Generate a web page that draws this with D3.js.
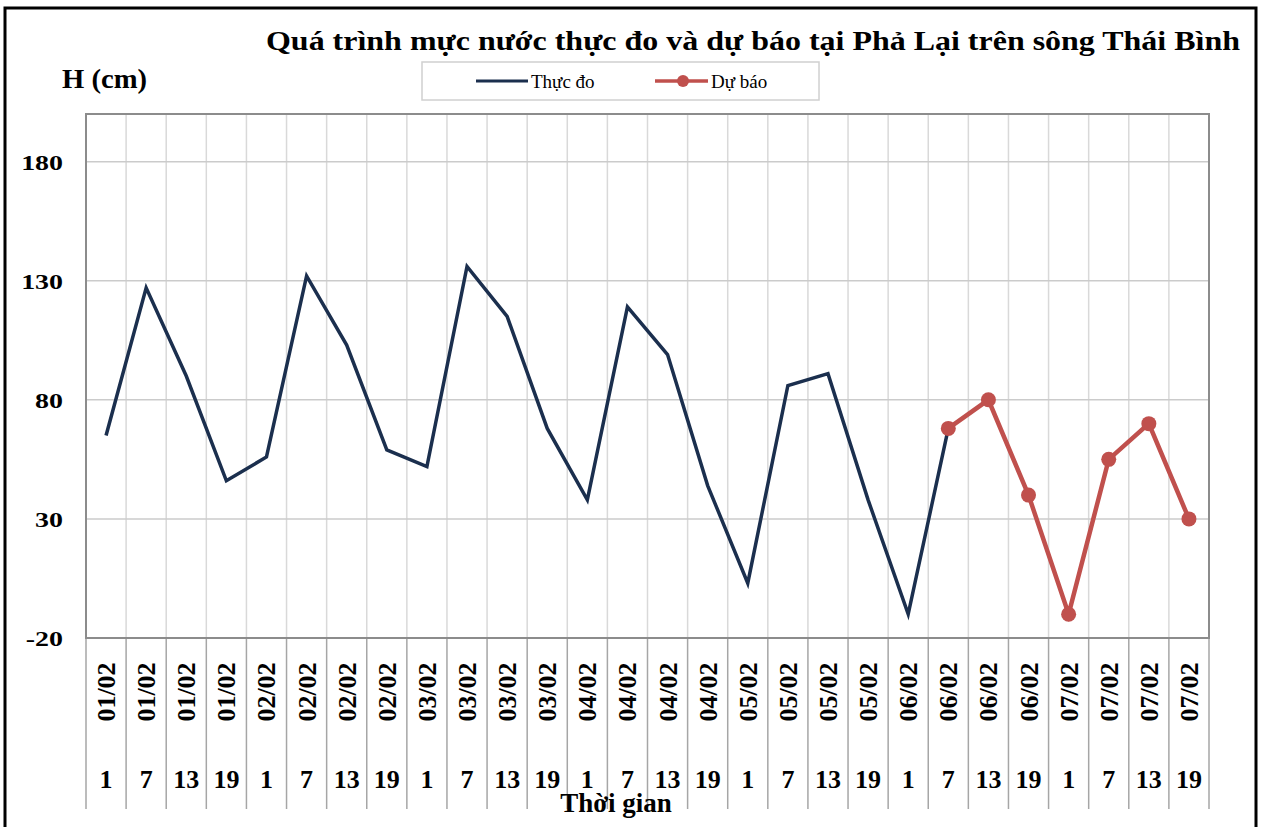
<!DOCTYPE html>
<html>
<head>
<meta charset="utf-8">
<script src="https://cdn.jsdelivr.net/npm/d3@7"></script>
<style>
  body { margin: 0; background: #fff; }
  text { font-family: "Times New Roman", "Liberation Serif", serif; }
</style>
</head>
<body>
<svg id="chart" width="1264" height="827"></svg>
<script>
var dateLabels = ["01/02","01/02","01/02","01/02","02/02","02/02","02/02","02/02",
                  "03/02","03/02","03/02","03/02","04/02","04/02","04/02","04/02",
                  "05/02","05/02","05/02","05/02","06/02","06/02","06/02","06/02",
                  "07/02","07/02","07/02","07/02"];
var hourLabels = ["1","7","13","19","1","7","13","19","1","7","13","19","1","7",
                  "13","19","1","7","13","19","1","7","13","19","1","7","13","19"];
// thuc do (observed), ends where the forecast starts
var observed = [65,127,90,46,56,132,103,59,52,136,115,68,38,119,99,44,3,86,91,38,-10,68];
// du bao (forecast)
var forecast = [null,null,null,null,null,null,null,null,null,null,null,null,null,null,
                null,null,null,null,null,null,null,68,80,40,-10,55,70,30];
var yTicks = [-20, 30, 80, 130, 180];

var navy = "#1b2f4e", red = "#c0504d";

var svg = d3.select("#chart");

var plotLeft = 86, plotRight = 1209, plotTop = 114, plotBottom = 638;

// outer frame
svg.append("rect")
   .attr("x", 5).attr("y", 8)
   .attr("width", 1251).attr("height", 840)
   .attr("fill", "none").attr("stroke", "#000").attr("stroke-width", 3);

var xScale = d3.scaleBand().domain(d3.range(dateLabels.length)).range([plotLeft, plotRight]).padding(0),
    yScale = d3.scaleLinear().domain([-20, 200]).range([plotBottom, plotTop]);
var bw = xScale.bandwidth();
function cx(i) { return xScale(i) + bw / 2; }

// vertical grid + tick lines under the plot
var bounds = d3.range(dateLabels.length + 1).map(function(i) { return plotLeft + i * bw; });
svg.append("g").selectAll("line")
   .data(bounds.slice(1, -1))
   .enter().append("line")
   .attr("x1", function(d) { return d; }).attr("x2", function(d) { return d; })
   .attr("y1", plotTop).attr("y2", plotBottom)
   .attr("stroke", "#d9d9d9").attr("stroke-width", 1.5);
svg.append("g").selectAll("line")
   .data(bounds)
   .enter().append("line")
   .attr("x1", function(d) { return d; }).attr("x2", function(d) { return d; })
   .attr("y1", plotBottom).attr("y2", 809)
   .attr("stroke", "#a6a6a6").attr("stroke-width", 1.5);

// horizontal grid
svg.append("g").selectAll("line")
   .data(yTicks.slice(1))
   .enter().append("line")
   .attr("x1", plotLeft).attr("x2", plotRight)
   .attr("y1", function(d) { return yScale(d); }).attr("y2", function(d) { return yScale(d); })
   .attr("stroke", "#cbcbcb").attr("stroke-width", 1.5);

// plot border
svg.append("rect")
   .attr("x", plotLeft).attr("y", plotTop)
   .attr("width", plotRight - plotLeft).attr("height", plotBottom - plotTop)
   .attr("fill", "none").attr("stroke", "#8c8c8c").attr("stroke-width", 2);

// y labels (source text looks stretched sideways)
svg.append("g").selectAll("text")
   .data(yTicks)
   .enter().append("text")
   .attr("transform", function(d) { return "translate(63," + (yScale(d) + 8) + ") scale(1.27,1)"; })
   .attr("text-anchor", "end")
   .attr("font-size", "22px").attr("font-weight", "bold")
   .text(function(d) { return d; });

// x labels
svg.append("g").selectAll("text")
   .data(dateLabels)
   .enter().append("text")
   .attr("transform", function(d, i) { return "translate(" + (cx(i) + 9) + ",692) rotate(-90)"; })
   .attr("text-anchor", "middle")
   .attr("font-size", "26px").attr("font-weight", "bold")
   .text(function(d) { return d; });
svg.append("g").selectAll("text")
   .data(hourLabels)
   .enter().append("text")
   .attr("x", function(d, i) { return cx(i); })
   .attr("y", 788)
   .attr("text-anchor", "middle")
   .attr("font-size", "26px").attr("font-weight", "bold")
   .text(function(d) { return d; });

// lines
var line = d3.line()
   .defined(function(d) { return d != null; })
   .x(function(d, i) { return cx(i); })
   .y(function(d) { return yScale(d); });

svg.append("path").datum(observed)
   .attr("d", line)
   .attr("fill", "none").attr("stroke", navy).attr("stroke-width", 3.5)
   .attr("stroke-linejoin", "miter");

svg.append("path").datum(forecast)
   .attr("d", line)
   .attr("fill", "none").attr("stroke", red).attr("stroke-width", 4.5);

svg.append("g").selectAll("circle")
   .data(forecast.map(function(v, i) { return {v: v, i: i}; }).filter(function(d) { return d.v != null; }))
   .enter().append("circle")
   .attr("cx", function(d) { return cx(d.i); })
   .attr("cy", function(d) { return yScale(d.v); })
   .attr("r", 7.5)
   .attr("fill", red);

// titles
svg.append("text")
   .attr("x", 266).attr("y", 50)
   .attr("font-size", "27px").attr("font-weight", "bold")
   .attr("textLength", 974).attr("lengthAdjust", "spacingAndGlyphs")
   .text("Quá trình mực nước thực đo và dự báo tại Phả Lại trên sông Thái Bình");

svg.append("text")
   .attr("x", 62).attr("y", 88)
   .attr("font-size", "27px").attr("font-weight", "bold")
   .attr("textLength", 85).attr("lengthAdjust", "spacingAndGlyphs")
   .text("H (cm)");

svg.append("text")
   .attr("x", 616).attr("y", 812)
   .attr("text-anchor", "middle")
   .attr("font-size", "27px").attr("font-weight", "bold")
   .text("Thời gian");

// legend
var legend = svg.append("g");
legend.append("rect")
   .attr("x", 422).attr("y", 62).attr("width", 397).attr("height", 38)
   .attr("fill", "#fff").attr("stroke", "#d0d0d0").attr("stroke-width", 1.5);
legend.append("line")
   .attr("x1", 476).attr("x2", 528).attr("y1", 81).attr("y2", 81)
   .attr("stroke", navy).attr("stroke-width", 3);
legend.append("text")
   .attr("x", 531).attr("y", 88)
   .attr("font-size", "19px")
   .text("Thực đo");
legend.append("line")
   .attr("x1", 655).attr("x2", 708).attr("y1", 81).attr("y2", 81)
   .attr("stroke", red).attr("stroke-width", 3.5);
legend.append("circle")
   .attr("cx", 683).attr("cy", 81).attr("r", 6)
   .attr("fill", red);
legend.append("text")
   .attr("x", 711).attr("y", 88)
   .attr("font-size", "19px")
   .text("Dự báo");
</script>
</body>
</html>
